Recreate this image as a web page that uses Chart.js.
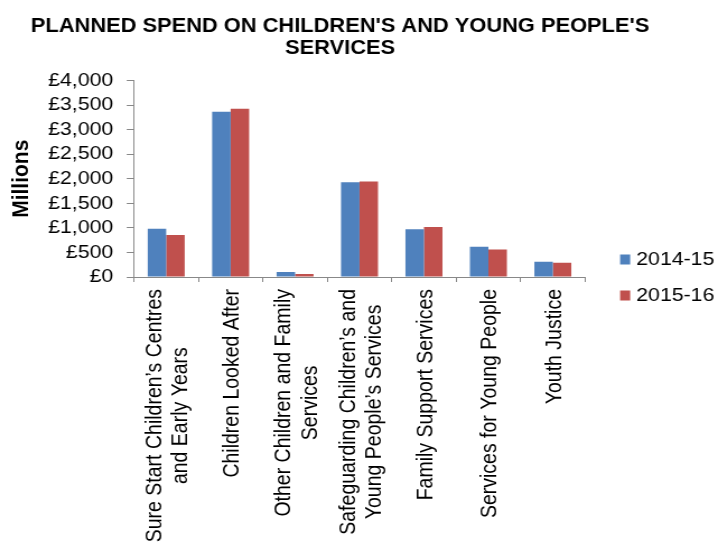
<!DOCTYPE html>
<html>
<head>
<meta charset="utf-8">
<title>Planned spend on children's and young people's services</title>
<script src="https://cdn.jsdelivr.net/npm/chart.js@4.4.1/dist/chart.umd.min.js"></script>
<style>
  html, body { margin: 0; padding: 0; background: #fff; }
</style>
</head>
<body>
<!-- the original picture is a little stretched sideways, so the canvas is drawn
     at 641px and shown at 718px -->
<canvas id="chart" width="641" height="543" style="display:block;width:718px;height:543px"></canvas>
<script>
  'use strict';

  const titleLines = ["PLANNED SPEND ON CHILDREN'S AND YOUNG PEOPLE'S", 'SERVICES'];
  const yAxisLabel = 'Millions';

  const categories = [
    ['Sure Start Children’s Centres', 'and Early Years'],
    ['Children Looked After'],
    ['Other Children and Family', 'Services'],
    ['Safeguarding Children’s and', 'Young People’s Services'],
    ['Family Support Services'],
    ['Services for Young People'],
    ['Youth Justice']
  ];

  const seriesNames = ['2014-15', '2015-16'];
  const spend201415 = [980, 3365, 100, 1930, 970, 615, 310];
  const spend201516 = [855, 3425, 60, 1945, 1020, 560, 290];

  const yTicks = [0, 500, 1000, 1500, 2000, 2500, 3000, 3500, 4000];

  const FONT = '"Liberation Sans", Arial, sans-serif';
  const AXIS_GREY = '#888888';

  // title, rotated category labels (centred lines) and the legend
  const decorations = {
    id: 'decorations',
    afterDraw(chart) {
      const ctx = chart.ctx;
      const xScale = chart.scales.x;

      ctx.save();
      ctx.fillStyle = '#000';
      ctx.textBaseline = 'middle';

      ctx.font = 'bold 19.5px ' + FONT;
      ctx.textAlign = 'center';
      titleLines.forEach(function (line, i) {
        ctx.fillText(line, 303.6, 26.5 + i * 22.5);
      });

      ctx.font = '19.5px ' + FONT;
      chart.data.labels.forEach(function (lines, i) {
        const cx = xScale.getPixelForValue(i);
        const w = Math.max.apply(null, lines.map(function (l) {
          return ctx.measureText(l).width;
        }));
        ctx.save();
        ctx.translate(cx, xScale.top + 12);
        ctx.rotate(-Math.PI / 2);
        lines.forEach(function (l, k) {
          ctx.fillText(l, -w / 2, (k - (lines.length - 1) / 2) * 23.5 + 2);
        });
        ctx.restore();
      });

      ctx.font = '19px ' + FONT;
      ctx.textAlign = 'left';
      chart.data.datasets.forEach(function (ds, i) {
        const y = 259.5 + i * 36;
        ctx.fillStyle = ds.backgroundColor;
        ctx.fillRect(553.6, y - 5, 9, 10);
        ctx.fillStyle = '#000';
        ctx.fillText(ds.label, 568, y);
      });

      ctx.restore();
    }
  };

  new Chart(document.getElementById('chart'), {
    type: 'bar',
    data: {
      labels: categories,
      datasets: [
        { label: seriesNames[0], data: spend201415, backgroundColor: '#4F81BD' },
        { label: seriesNames[1], data: spend201516, backgroundColor: '#C0504D' }
      ]
    },
    options: {
      responsive: false,
      animation: false,
      layout: { padding: { top: 80.5, right: 118.7, bottom: 0, left: 0 } },
      datasets: { bar: { categoryPercentage: 0.574, barPercentage: 1 } },
      plugins: {
        legend: { display: false },
        title: { display: false },
        tooltip: { enabled: false }
      },
      scales: {
        x: {
          ticks: { display: false },
          grid: { drawOnChartArea: false, drawTicks: true, tickLength: 5, color: AXIS_GREY, offset: true },
          border: { color: AXIS_GREY },
          afterFit: function (scale) { scale.height = 266; }
        },
        y: {
          min: 0,
          max: 4000,
          afterBuildTicks: function (scale) {
            scale.ticks = yTicks.map(function (v) { return { value: v }; });
          },
          ticks: {
            autoSkip: false,
            padding: 12,
            color: '#000',
            font: { family: FONT, size: 19 },
            callback: function (v) { return '£' + v.toLocaleString('en-GB'); }
          },
          grid: { drawOnChartArea: false, tickLength: 6.5, color: AXIS_GREY },
          border: { color: AXIS_GREY },
          title: {
            display: true,
            text: yAxisLabel,
            color: '#000',
            font: { family: FONT, size: 21, weight: 'bold' },
            padding: { top: 7, bottom: 11 }
          },
          afterFit: function (scale) { scale.width = 119.6; }
        }
      }
    },
    plugins: [decorations]
  });
</script>
</body>
</html>
